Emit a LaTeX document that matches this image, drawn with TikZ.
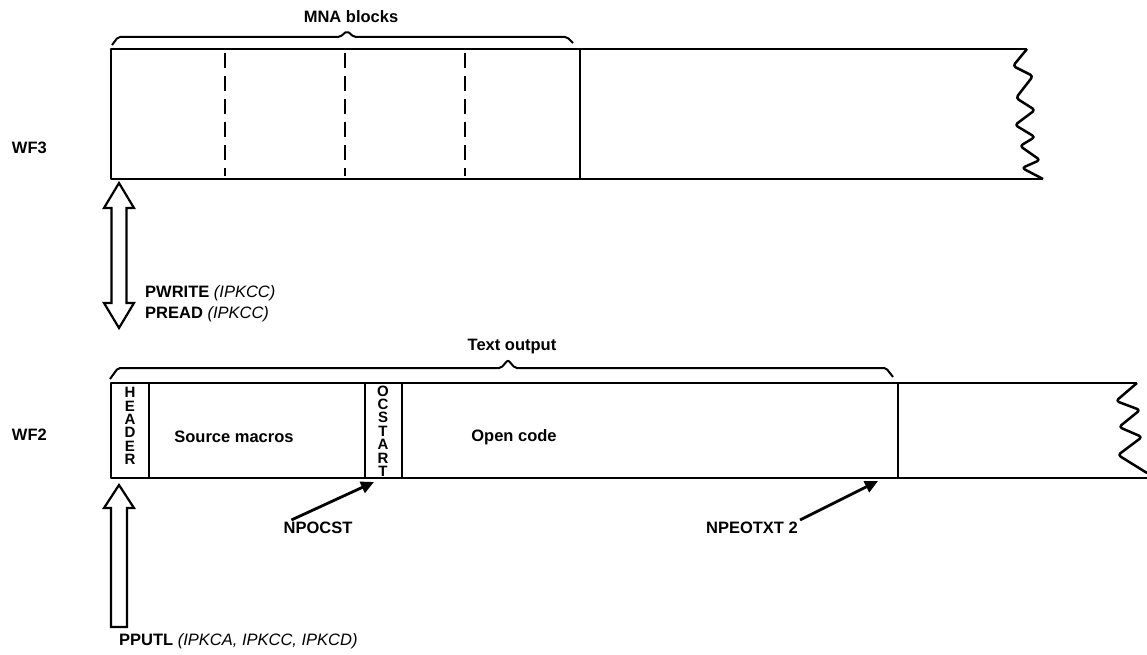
\documentclass[tikz,border=0pt]{standalone}
\usepackage{fontspec}
\setmainfont{Liberation Sans}
\usetikzlibrary{arrows.meta,positioning}

\begin{document}
\begin{tikzpicture}[x=1pt, y=-1pt, line join=round,
    lbl/.style={font=\fontsize{16.5}{19}\selectfont\bfseries, inner sep=2pt},
    stack/.style={align=center, font=\fontsize{15}{13.4}\selectfont\bfseries, inner sep=0pt},
    wall/.style={line width=2.5pt},
    brc/.style={line width=2pt, rounded corners=2pt},
    fat/.style={draw, line width=2.2pt, fill=white, line join=miter},
    ptr/.style={line width=2.8pt, -{Triangle[length=13pt,width=12pt]}}]
	\useasboundingbox (0,0) rectangle (1147,655);

	% WF3
	\draw[wall] (1027,49) -- (111,49) -- (111,179) -- (1043,179);
	\draw[wall, rounded corners=3pt] (1027,49) -- (1013,66) -- (1033,76) -- (1016,98) -- (1035,110)
		-- (1015,125) -- (1035,137) -- (1020,146) -- (1040,160) -- (1022,168) -- (1043,179);
	\draw[wall] (580,49) -- (580,179);
	\foreach \x in {225,345,465}
		\draw[wall, dash pattern=on 15pt off 8pt] (\x,53) -- (\x,176);
	\draw[brc] (112,45) -- (118,37) -- (340,37) -- (347,31) -- (354,37) -- (567,37) -- (573,43);

	% WF2
	\draw[wall] (1137,383) -- (111,383) -- (111,478) -- (1147,478);
	\draw[wall, rounded corners=3pt] (1137,383) -- (1116,401) -- (1140,410) -- (1119,427)
		-- (1142,437) -- (1118,455) -- (1147,473);
	\foreach \x in {149,365,402,898}
		\draw[wall] (\x,383) -- (\x,478);
	\draw[brc] (110,379) -- (118,368) -- (501,368) -- (508,360) -- (515,368) -- (886,368) -- (893,377);

	\node[lbl] (mna) at (351,17) {MNA blocks};
	\node[lbl] (txtout) at (512,347) {Text output};
	\node[lbl, anchor=east] (wf3) at (49,148) {WF3};
	\node[lbl, anchor=east] (wf2) at (49,435) {WF2};
	\node[stack] (hdr) at (130,426) {H\\E\\A\\D\\E\\R};
	\node[stack] (ocs) at (383,431) {O\\C\\S\\T\\A\\R\\T};
	\node[lbl] (src) at (234,437) {Source macros};
	\node[lbl] (open) at (514,437) {Open code};

	% transfer arrows
	\draw[fat] (119,183) -- (134,208) -- (126.5,208) -- (126.5,303) -- (134,303) -- (119,328)
		-- (104,303) -- (111.5,303) -- (111.5,208) -- (104,208) -- cycle;
	\draw[fat] (119,485) -- (134,508) -- (127,508) -- (127,627) -- (111,627) -- (111,508) -- (104,508) -- cycle;
	\node[lbl, anchor=west] (pwrite) at (143,293) {PWRITE {\mdseries\itshape (IPKCC)}};
	\node[lbl, anchor=west] (pread) at (143,314) {PREAD {\mdseries\itshape (IPKCC)}};
	\node[lbl, anchor=west] (pputl) at (117,641) {PPUTL {\mdseries\itshape (IPKCA, IPKCC, IPKCD)}};

	% pointers
	\node[lbl] (npocst) at (318,528) {NPOCST};
	\node[lbl, anchor=east] (npeotxt) at (800,528) {NPEOTXT 2};
	\coordinate (ocsfoot) at (374,482);
	\coordinate (eotfoot) at (878,481);
	\draw[ptr] ([xshift=10pt]npocst.north west) -- (ocsfoot);
	\draw[ptr] (npeotxt.north east) -- (eotfoot);
\end{tikzpicture}
\end{document}
